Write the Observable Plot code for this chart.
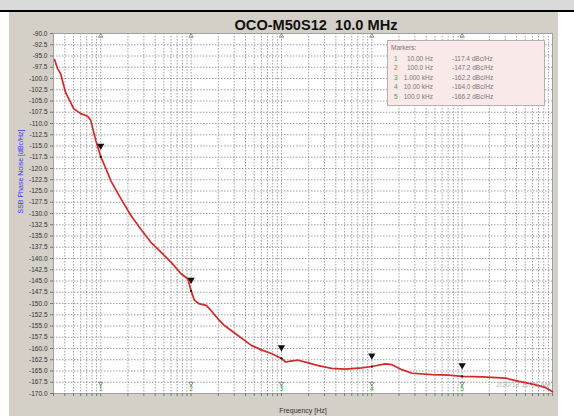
<!DOCTYPE html>
<html>
<head>
<meta charset="utf-8">
<script src="https://cdn.jsdelivr.net/npm/d3@7"></script>
<script src="https://cdn.jsdelivr.net/npm/@observablehq/plot@0.6"></script>
<style>
  html, body { margin: 0; padding: 0; background: #ffffff; }
  #wrap { position: relative; width: 574px; height: 416px; overflow: hidden; font-family: "Liberation Sans", Arial, sans-serif; }
  #strip { position: absolute; left: 0; top: 0; width: 574px; height: 10px; background: #dadada; }
  #bar { position: absolute; left: 0; top: 10px; width: 574px; height: 2px; background: #000; }
  #panel { position: absolute; left: 9px; top: 12px; width: 549px; height: 404px; background: #d4d0c8; }
  #chart { position: absolute; left: 0; top: 0; }
  #legend { position: absolute; left: 387px; top: 40px; width: 158px; height: 66px; background: #f9e9e8; border: 1px solid #b8b0b0; box-sizing: border-box; font-size: 6.5px; color: #777; }
  #legend div { position: absolute; white-space: nowrap; line-height: 8px; }
</style>
</head>
<body>
<div id="wrap">
  <div id="strip"></div>
  <div id="bar"></div>
  <div id="panel"></div>
  <div id="chart"></div>
  <div id="legend"></div>
</div>
<script>
// ---- data ----
const titleText = "OCO-M50S12\u00a0 10.0 MHz";
const yLabel = "SSB Phase Noise [dBc/Hz]";
const xLabel = "Frequency [Hz]";
const stampText = "2/20/13 11:06 AM";

const freqHz = [3.08, 3.33, 3.59, 4.08, 4.41, 5.01, 6.0, 7.17, 7.74, 8.8, 10,
  11.4, 12.9, 16.7, 21.5, 27.8, 35.9, 46.4, 59.9, 77.4, 91.9, 100,
  109, 124, 147, 167, 198, 234, 278, 330, 391, 464, 599, 774, 1000,
  1108, 1259, 1535, 1981, 2557, 3594, 5048, 7743, 10000,
  14060, 16680, 21540, 27830, 46420, 71110, 100000,
  166800, 302700, 426600, 599500, 843300, 1000000];
const noiseDb = [-95.8, -97.8, -98.9, -103.1, -104.4, -106.7, -107.8, -108.4, -109.3, -113.7, -117.4,
  -120.0, -122.7, -126.7, -130.4, -133.5, -136.4, -138.6, -140.8, -143.4, -144.5, -147.2,
  -149.3, -150.1, -150.4, -151.6, -153.4, -154.9, -156.0, -157.1, -158.2, -159.3, -160.3, -161.1, -162.2,
  -163.0, -162.8, -162.6, -163.2, -163.8, -164.4, -164.6, -164.3, -164.0,
  -163.4, -163.6, -164.7, -165.5, -165.8, -165.9, -166.2,
  -166.3, -166.6, -167.3, -167.9, -168.7, -169.6];

const markerNums = [1, 2, 3, 4, 5];
const markerFreqs = [10, 100, 1000, 10000, 100000];
const markerFreqLabels = ["10.00 Hz", "100.0 Hz", "1.000 kHz", "10.00 kHz", "100.0 kHz"];
const markerValues = [-117.4, -147.2, -162.2, -164.0, -166.2];

const yTicks = [-170, -167.5, -165, -162.5, -160, -157.5, -155, -152.5, -150, -147.5, -145,
  -142.5, -140, -137.5, -135, -132.5, -130, -127.5, -125, -122.5, -120, -117.5, -115,
  -112.5, -110, -107.5, -105, -102.5, -100, -97.5, -95, -92.5, -90];
const decadeTicks = [10, 100, 1000, 10000, 100000, 1000000];
const decadeLabels = ["1E1", "1E2", "1E3", "1E4", "1E5", "1E6"];

// ---- derived tables ----
const curve = freqHz.map((f, i) => ({f, v: noiseDb[i]}));
const markers = markerNums.map((n, i) => ({n, f: markerFreqs[i], v: markerValues[i], lab: markerFreqLabels[i]}));
const minorTicks = [];
for (let d = 1; d <= 100000; d *= 10) for (let k = 1; k <= 9; k++) { const t = k * d; if (t >= 3) minorTicks.push(t); }
minorTicks.push(1000000);

const gridColor = "#a0a0a0";
const font = "'Liberation Sans', Arial, sans-serif";

const chart = Plot.plot({
  width: 574,
  height: 416,
  marginLeft: 53,
  marginRight: 22,
  marginTop: 33,
  marginBottom: 23,
  style: {background: "transparent", fontFamily: font},
  x: {type: "log", domain: [3, 1000000], axis: null, label: null},
  y: {domain: [-170, -90], axis: null, label: null},
  marks: [
    Plot.frame({fill: "white", stroke: null}),
    Plot.ruleX(minorTicks, {stroke: gridColor, strokeDasharray: "1.5,1.5", strokeWidth: 1}),
    Plot.ruleY(yTicks, {stroke: gridColor, strokeDasharray: "1.5,1.5", strokeWidth: 1}),
    Plot.frame({stroke: "#a0a0a0"}),
    Plot.axisY({ticks: yTicks, label: null, tickFormat: d => d.toFixed(1), tickSize: 3, tickPadding: 3, fontSize: 6.5, fill: "#333", stroke: "#777"}),
    Plot.axisX({ticks: minorTicks, label: null, text: null, tickSize: 3, stroke: "#777"}),
    Plot.axisX({ticks: decadeTicks, label: null, tickFormat: (d, i) => decadeLabels[i], tickSize: 0, tickPadding: 6, fontSize: 6.5, fill: "#333"}),
    Plot.text([xLabel], {frameAnchor: "bottom", dy: 19, fontSize: 7, fill: "#333"}),
    Plot.text([yLabel], {frameAnchor: "left", dx: -33, rotate: -90, fontSize: 7, fill: "#3a3ae8"}),
    Plot.text([titleText], {frameAnchor: "top", dy: -14, dx: 13, fontSize: 14.6, fontWeight: "bold", fill: "#111"}),
    Plot.text([stampText], {frameAnchor: "bottom-right", dx: -2, dy: -6.5, textAnchor: "end", fontSize: 7, fill: "#b4b4b4"}),
    // marker indicators at top and bottom
    Plot.dot(markers, {x: "f", y: -90, dy: 2.5, symbol: "triangle", r: 1.6, fill: "none", stroke: "#777", strokeWidth: 0.8}),
    Plot.dot(markers, {x: "f", y: -170, dy: -10, symbol: "triangle", rotate: 180, r: 1.6, fill: "none", stroke: "#777", strokeWidth: 0.8}),
    Plot.text(markers, {x: "f", y: -170, dy: -4.5, text: "n", fontSize: 6.5, fill: "#2fae36"}),
    // curve
    Plot.line(curve, {x: "f", y: "v", stroke: "#d12a2a", strokeWidth: 1.7, curve: "linear"}),
    // markers on curve
    Plot.dot(markers, {x: "f", y: "v", symbol: "square", r: 1.1, fill: "#111", stroke: "none"}),
    Plot.dot(markers, {x: "f", y: "v", dy: -11, symbol: "triangle", rotate: 180, r: 2.7, fill: "#111", stroke: "none"})
  ]
});
document.getElementById("chart").appendChild(chart);

// ---- legend (HTML overlay) ----
const legend = document.getElementById("legend");
const head = document.createElement("div");
head.textContent = "Markers:";
head.style.left = "3px"; head.style.top = "2.5px";
legend.appendChild(head);
markers.forEach((m, i) => {
  const top = 14 + i * 9.4;
  const a = document.createElement("div");
  a.textContent = m.n; a.style.left = "6px"; a.style.top = top + "px"; a.style.color = "#2fae36";
  const b = document.createElement("div");
  b.textContent = m.lab; b.style.right = (158 - 47) + "px"; b.style.top = top + "px";
  const c = document.createElement("div");
  c.textContent = m.v.toFixed(1) + " dBc/Hz"; c.style.left = "64px"; c.style.top = top + "px";
  legend.appendChild(a); legend.appendChild(b); legend.appendChild(c);
});
</script>
</body>
</html>
